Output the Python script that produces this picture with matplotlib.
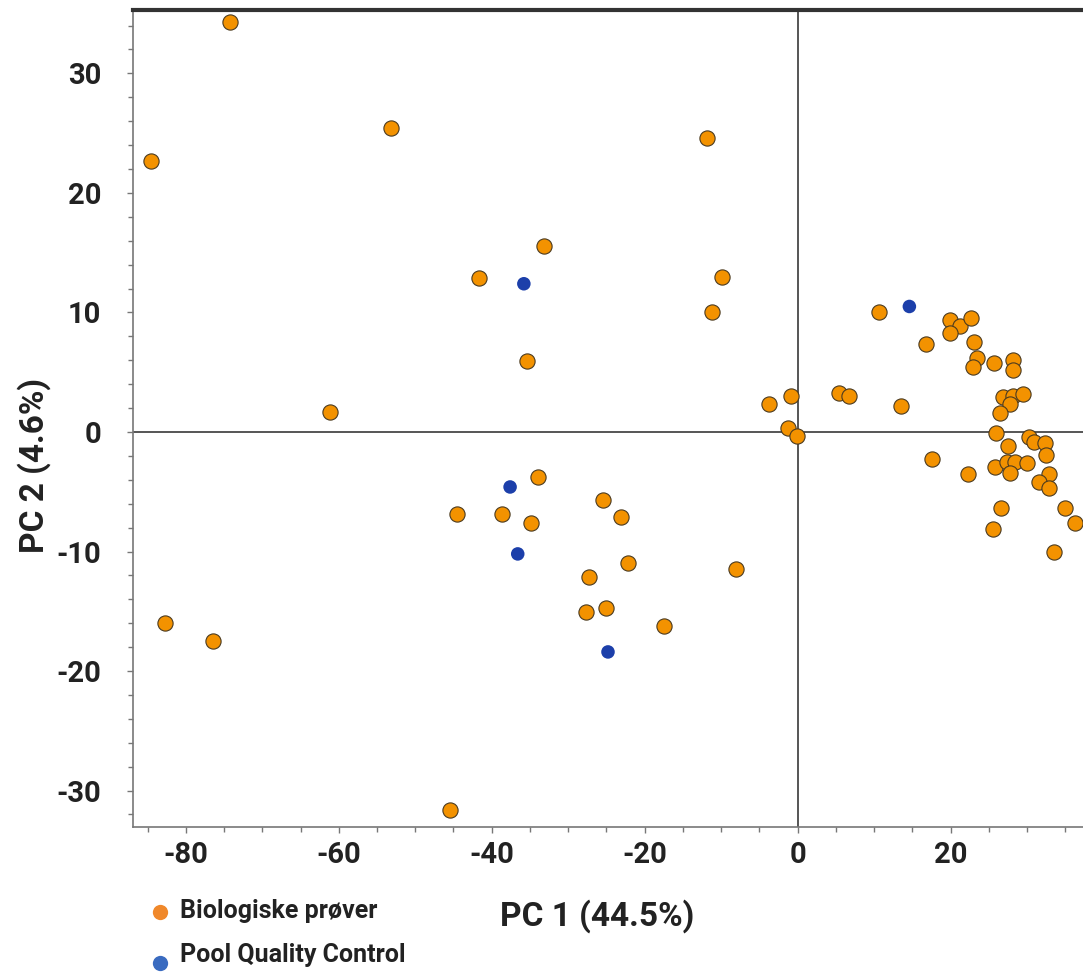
import matplotlib
matplotlib.use("Agg")
import matplotlib.pyplot as plt
from matplotlib.lines import Line2D
from matplotlib.ticker import MultipleLocator

plt.rcParams["font.family"] = ["Roboto", "DejaVu Sans"]
plt.rcParams["axes.unicode_minus"] = False

# PC scores
bio_pc1 = [-74.2, -84.6, -53.2, -11.8, -33.2, -41.7, -9.9, -11.2, -35.4, -61.2,
           -34.0, -44.6, -38.7, -34.9, -25.5, -23.1, -22.2, -27.3, -8.0, -27.7,
           -25.1, -17.5, -82.7, -76.5, -45.4, -3.8, -0.9, -1.3, -0.1, 5.4,
           6.7, 10.6, 13.5, 19.9, 21.2, 22.6, 19.9, 16.8, 23.0, 23.4,
           22.9, 25.7, 28.1, 28.2, 26.9, 28.1, 29.5, 27.8, 26.5, 25.9,
           30.2, 30.9, 32.3, 32.4, 27.5, 17.6, 25.8, 27.3, 28.4, 30.0,
           27.8, 22.3, 32.9, 31.5, 32.9, 26.6, 34.9, 25.5, 36.3, 33.5]
bio_pc2 = [34.3, 22.7, 25.4, 24.6, 15.6, 12.9, 13.0, 10.0, 5.9, 1.7,
           -3.8, -6.9, -6.9, -7.6, -5.7, -7.1, -11.0, -12.1, -11.5, -15.1,
           -14.7, -16.2, -16.0, -17.5, -31.6, 2.3, 3.0, 0.3, -0.3, 3.3,
           3.0, 10.0, 2.2, 9.4, 8.9, 9.5, 8.3, 7.4, 7.5, 6.2,
           5.4, 5.8, 6.0, 5.2, 2.9, 3.0, 3.2, 2.3, 1.6, -0.1,
           -0.4, -0.8, -0.9, -1.9, -1.2, -2.3, -2.9, -2.5, -2.5, -2.6,
           -3.4, -3.5, -3.5, -4.2, -4.7, -6.4, -6.4, -8.1, -7.6, -10.0]
qc_pc1 = [-35.8, -37.6, -36.6, -24.8, 14.6]
qc_pc2 = [12.4, -4.6, -10.2, -18.4, 10.5]

x_label = "PC 1 (44.5%)"
y_label = "PC 2 (4.6%)"
legend_labels = ["Biologiske prøver", "Pool Quality Control"]
legend_colors = ["#F0882A", "#3A6BC0"]

fig = plt.figure(figsize=(10.83, 9.73), dpi=100)
ax = fig.add_axes([0.1228, 0.150, 0.8772, 0.8397])

ax.axhline(0, color="#555555", linewidth=1.4, zorder=1)
ax.axvline(0, color="#555555", linewidth=1.4, zorder=1)

ax.scatter(bio_pc1, bio_pc2, s=120, color="#F39200", edgecolors="#4a3a20",
           linewidths=0.8, zorder=3)
ax.scatter(qc_pc1, qc_pc2, s=95, color="#1C3FAA", edgecolors="none", zorder=4)

ax.set_xlim(-86.9, 37.3)
ax.set_ylim(-33.05, 35.3)
ax.xaxis.set_major_locator(MultipleLocator(20))
ax.xaxis.set_minor_locator(MultipleLocator(5))
ax.yaxis.set_major_locator(MultipleLocator(10))
ax.yaxis.set_minor_locator(MultipleLocator(2))

for side in ("left", "bottom"):
    ax.spines[side].set_color("#777777")
    ax.spines[side].set_linewidth(1.2)
ax.spines["right"].set_visible(False)
ax.spines["top"].set_color("#333333")
ax.spines["top"].set_linewidth(3)

ax.tick_params(which="major", length=4, width=1, color="#777777",
               labelsize=21, labelcolor="#222222")
ax.tick_params(axis="y", which="major", pad=19)
ax.tick_params(axis="x", which="major", pad=6)
ax.tick_params(which="minor", length=3.5, width=1, color="#777777")
for lab in ax.get_xticklabels() + ax.get_yticklabels():
    lab.set_fontweight("bold")

fig.text(0.551, 0.059, x_label, ha="center", va="center", fontsize=24,
         fontweight="bold", color="#222222")
fig.text(0.031, 0.522, y_label, ha="center", va="center", fontsize=24,
         rotation=90, fontweight="bold", color="#222222")

# legend drawn by hand, below the lower left corner
legend_y = [0.063, 0.010]
text_y = [0.064, 0.018]
for lab, col, my, ty in zip(legend_labels, legend_colors, legend_y, text_y):
    fig.add_artist(Line2D([0.1478], [my], transform=fig.transFigure,
                          marker="o", markersize=11, linestyle="none",
                          markerfacecolor=col, markeredgecolor="none"))
    fig.text(0.166, ty, lab, ha="left", va="center", fontsize=18,
             fontweight="bold", color="#222222")

fig.savefig("out.png", dpi=100)
